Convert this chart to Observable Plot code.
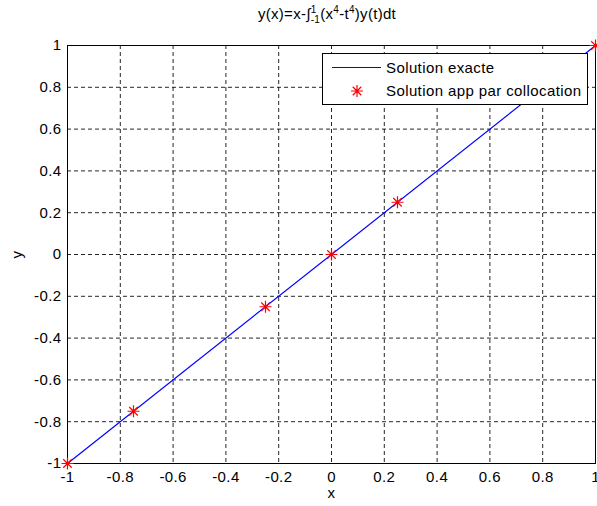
<!DOCTYPE html>
<html><head><meta charset="utf-8">
<script src="https://cdn.jsdelivr.net/npm/d3@7"></script>
<script src="https://cdn.jsdelivr.net/npm/@observablehq/plot@0.6"></script>
<style>
body{margin:0;background:#fff;}
#wrap{position:relative;width:597px;height:506px;font-family:"Liberation Sans",Arial,sans-serif;color:#000;}
#title{position:absolute;top:5px;left:327px;transform:translateX(-50%);white-space:nowrap;font-size:15px;letter-spacing:0.3px;line-height:18px;}
#title .lim{display:inline-block;vertical-align:-4px;font-size:10px;line-height:10px;text-align:left;}
#title sup{font-size:10px;vertical-align:6px;line-height:0;}
#wrap svg.plot{position:absolute;left:0;top:0;}
#legend{position:absolute;left:0;top:0;pointer-events:none;}
</style></head><body><div id="wrap"><div id="title">y(x)=x-∫<span class="lim">1<br>-1</span>(x<sup>4</sup>-t<sup>4</sup>)y(t)dt</div></div>
<script>
// Data
const exactX = [-1, 1];
const exactY = [-1, 1];
const collocX = [-1, -0.75, -0.25, 0, 0.25, 1];
const collocY = [-1, -0.75, -0.25, 0, 0.25, 1];
const xTicks = [-1, -0.8, -0.6, -0.4, -0.2, 0, 0.2, 0.4, 0.6, 0.8, 1];
const xTickLabels = ["-1", "-0.8", "-0.6", "-0.4", "-0.2", "0", "0.2", "0.4", "0.6", "0.8", "1"];
const yTicks = [-1, -0.8, -0.6, -0.4, -0.2, 0, 0.2, 0.4, 0.6, 0.8, 1];
const yTickLabels = ["-1", "-0.8", "-0.6", "-0.4", "-0.2", "0", "0.2", "0.4", "0.6", "0.8", "1"];
const seriesNames = ["Solution exacte", "Solution app par collocation"];

const exact = exactX.map((x, i) => ({x, y: exactY[i]}));
const colloc = collocX.map((x, i) => ({x, y: collocY[i]}));

const star = {
  draw(ctx, size) {
    const r = Math.sqrt(size / Math.PI), d = r * 0.7071;
    ctx.moveTo(-r, 0); ctx.lineTo(r, 0);
    ctx.moveTo(0, -r); ctx.lineTo(0, r);
    ctx.moveTo(-d, -d); ctx.lineTo(d, d);
    ctx.moveTo(-d, d); ctx.lineTo(d, -d);
  }
};

const grid = {stroke: "#000", strokeOpacity: 0.85, strokeWidth: 1, strokeDasharray: "4,3"};

const chart = Plot.plot({
  width: 597, height: 506,
  marginLeft: 67, marginRight: 2, marginTop: 45, marginBottom: 43,
  style: {fontFamily: "'Liberation Sans', Arial, sans-serif", fontSize: "15px", letterSpacing: "0.4px", background: "white", color: "black", overflow: "visible"},
  x: {domain: [-1, 1], ticks: xTicks, tickFormat: d => xTickLabels[xTicks.indexOf(d)], tickSize: 0, tickPadding: 8,
      label: "x", labelAnchor: "center", labelOffset: 34, labelArrow: "none"},
  y: {domain: [-1, 1], ticks: yTicks, tickFormat: d => yTickLabels[yTicks.indexOf(d)], tickSize: 0, tickPadding: 6,
      label: "y", labelAnchor: "center", labelOffset: 56, labelArrow: "none"},
  marks: [
    Plot.gridX(xTicks, grid),
    Plot.gridY(yTicks, grid),
    Plot.frame({stroke: "#000", strokeWidth: 1}),
    Plot.line(exact, {x: "x", y: "y", stroke: "#0000ff", strokeWidth: 1.2}),
    Plot.dot(colloc, {x: "x", y: "y", symbol: star, r: 6, stroke: "#ff0000", strokeWidth: 1.2, fill: "none"})
  ]
});
document.getElementById("wrap").appendChild(chart);

// Legend overlay
const lg = d3.select("#wrap").append("svg").attr("id", "legend").attr("width", 597).attr("height", 506)
  .style("font-family", "'Liberation Sans', Arial, sans-serif").style("font-size", "15px").style("letter-spacing", "0.4px");
lg.append("rect").attr("x", 322.5).attr("y", 53.5).attr("width", 265).attr("height", 51)
  .attr("fill", "white").attr("stroke", "black").attr("stroke-width", 1);
lg.append("line").attr("x1", 332).attr("x2", 381).attr("y1", 67.5).attr("y2", 67.5).attr("stroke", "#0000ff").attr("stroke-width", 1.2);
const p = d3.path(); star.draw(p, Math.PI * 36);
lg.append("path").attr("d", p.toString()).attr("transform", "translate(357,91)").attr("stroke", "#ff0000").attr("stroke-width", 1.2).attr("fill", "none");
lg.append("text").attr("x", 386).attr("y", 67.5).attr("dy", "0.35em").text(seriesNames[0]);
lg.append("text").attr("x", 386).attr("y", 91).attr("dy", "0.35em").text(seriesNames[1]);
</script></body></html>
